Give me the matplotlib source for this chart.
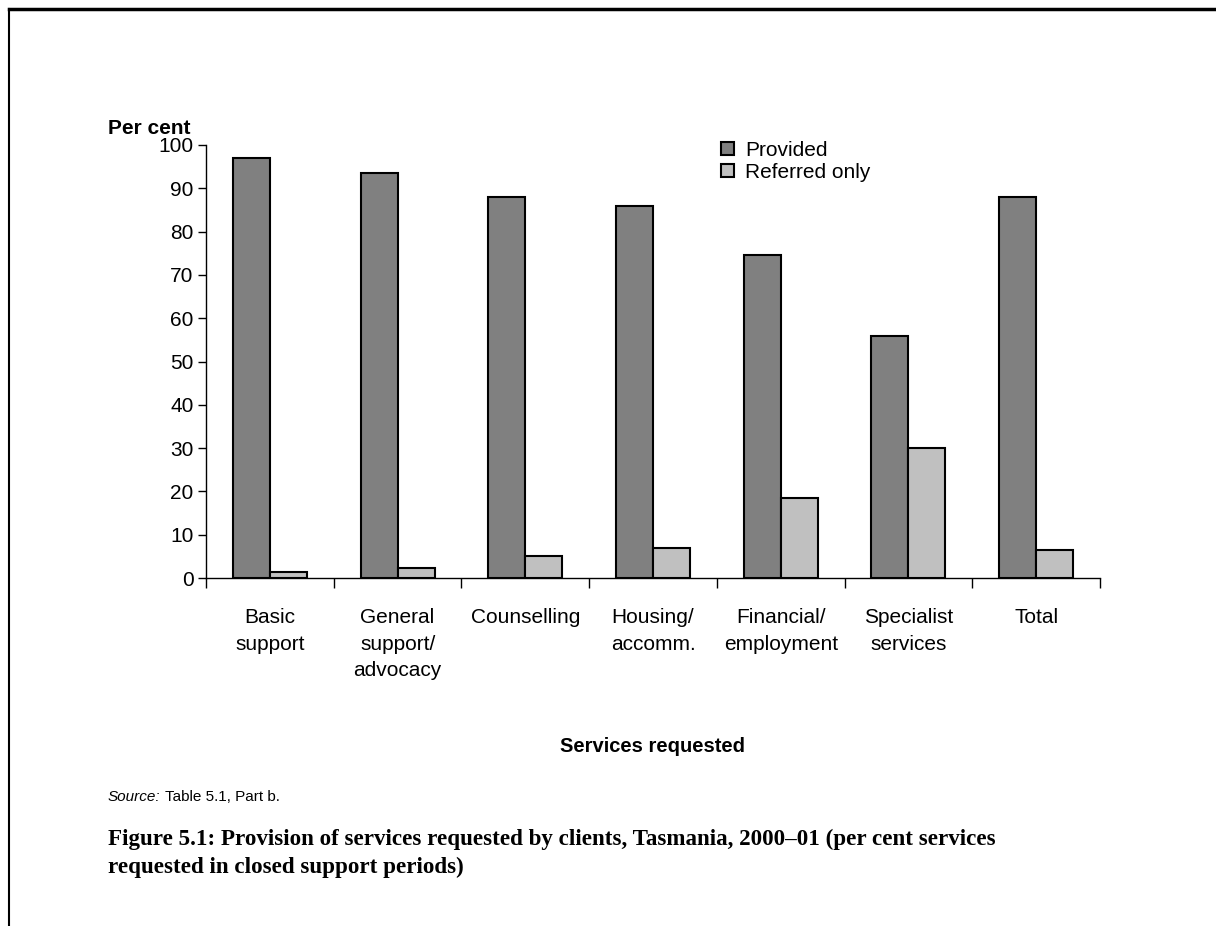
import matplotlib
matplotlib.use('Agg')
from matplotlib import pyplot as plt
from matplotlib.lines import Line2D
import numpy as np

# data
categories = ['Basic\nsupport', 'General\nsupport/\nadvocacy', 'Counselling', 'Housing/\naccomm.',
              'Financial/\nemployment', 'Specialist\nservices', 'Total']
provided = [96.9, 93.6, 88.0, 85.9, 74.7, 55.8, 88.0]
referred = [1.3, 2.3, 5.0, 6.9, 18.5, 30.0, 6.5]

plt.rcParams['font.family'] = ['Liberation Sans', 'DejaVu Sans']

W, H = 1216, 926
fig = plt.figure(figsize=(W / 100, H / 100), dpi=100)

# axes placed in pixel coords
x0, x1, ytop, ybot = 206, 1100, 145, 578
ax = fig.add_axes([x0 / W, 1 - ybot / H, (x1 - x0) / W, (ybot - ytop) / H])

x = np.arange(len(categories))
bw = 0.29
ax.bar(x - bw / 2, provided, bw, color='#808080', edgecolor='black', linewidth=1.5, label='Provided')
ax.bar(x + bw / 2, referred, bw, color='#c0c0c0', edgecolor='black', linewidth=1.5, label='Referred only')

ax.set_xlim(-0.5, len(categories) - 0.5)
ax.set_ylim(0, 100)
ax.set_yticks(range(0, 101, 10))
ax.set_xticks(np.arange(len(categories) + 1) - 0.5)
ax.set_xticklabels([])
ax.tick_params(axis='y', direction='out', length=6, width=1, labelsize=15, pad=3)
ax.tick_params(axis='x', direction='out', length=7, width=1)
for s in ['top', 'right']:
    ax.spines[s].set_visible(False)
for s in ['left', 'bottom']:
    ax.spines[s].set_linewidth(1)

for i, lab in enumerate(categories):
    ax.text(i, -7, lab, ha='center', va='top', fontsize=15, linespacing=1.5)

fig.text(108 / W, 1 - 128 / H, 'Per cent', fontsize=15, fontweight='bold', va='center', ha='left')
fig.text(652 / W, 1 - 747 / H, 'Services requested', fontsize=14.5, fontweight='bold', va='center', ha='center')

leg = ax.legend(loc='upper left', bbox_to_anchor=(721 / W, 1 - 141 / H), bbox_transform=fig.transFigure,
                frameon=False, fontsize=15, handlelength=0.6, handleheight=0.6, handletextpad=0.55,
                labelspacing=0.15, borderaxespad=0, borderpad=0)

# source line: italic label then plain text right after it
src = fig.text(108 / W, 1 - 797 / H, 'Source:', fontsize=11, style='italic', va='center', ha='left')
fig.canvas.draw()
bb = src.get_window_extent()
fig.text((bb.x1 + 4) / W, 1 - 797 / H, 'Table 5.1, Part b.', fontsize=11, va='center', ha='left')

fig.text(108 / W, 1 - 829 / H,
         'Figure 5.1: Provision of services requested by clients, Tasmania, 2000\u201301 (per cent services\nrequested in closed support periods)',
         fontsize=16.6, fontweight='bold', family=['Liberation Serif', 'DejaVu Serif'],
         va='top', ha='left', linespacing=1.4)

# frame lines
fig.add_artist(Line2D([9 / W, 1], [1 - 9 / H, 1 - 9 / H], color='black', linewidth=2.5))
fig.add_artist(Line2D([9 / W, 9 / W], [1 - 9 / H, 0], color='black', linewidth=1.5))

fig.savefig('out.png', dpi=100)
